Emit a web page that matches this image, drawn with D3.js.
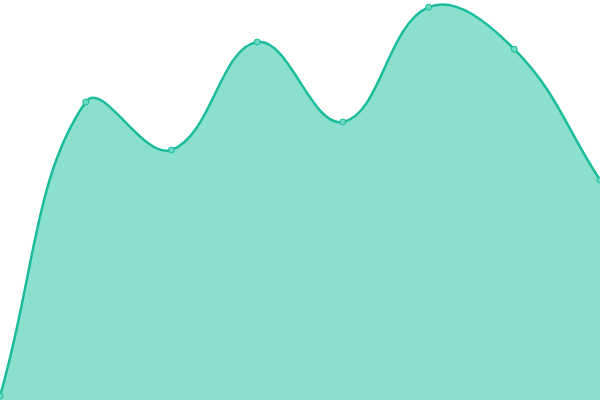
<!DOCTYPE html>
<html lang="en">
<head>
<meta charset="utf-8">
<title>Area</title>
<script src="https://d3js.org/d3.v7.min.js"></script>
<style>
  html, body { margin: 0; padding: 0; background: #fff; }
  svg { display: block; }
</style>
</head>
<body>
<div id="chart"></div>
<script>
// data
var labels = ["A", "B", "C", "D", "E", "F", "G", "H"];
var values = [1, 74.5, 62.5, 89.5, 69.5, 98.2, 87.7, 55];

var width = 600, height = 400;

// spline with distance-weighted control points (tension 0.4)
function softSpline(context) {
  var t = 0.4;
  return {
    _line: NaN,
    areaStart: function() { this._line = 0; },
    areaEnd: function() { this._line = NaN; },
    lineStart: function() { this._pts = []; },
    point: function(x, y) { this._pts.push([+x, +y]); },
    lineEnd: function() {
      var p = this._pts, n = p.length, ctrl = [];
      for (var i = 0; i < n; i++) {
        var prev = p[i - 1] || p[i], cur = p[i], next = p[i + 1] || p[i];
        var d01 = Math.hypot(cur[0] - prev[0], cur[1] - prev[1]);
        var d12 = Math.hypot(next[0] - cur[0], next[1] - cur[1]);
        var s01 = d01 / (d01 + d12), s12 = d12 / (d01 + d12);
        if (isNaN(s01)) s01 = 0;
        if (isNaN(s12)) s12 = 0;
        var fa = t * s01, fb = t * s12;
        ctrl.push({
          prev: [cur[0] - fa * (next[0] - prev[0]), cur[1] - fa * (next[1] - prev[1])],
          next: [cur[0] + fb * (next[0] - prev[0]), cur[1] + fb * (next[1] - prev[1])]
        });
      }
      if (n) {
        if (this._line) context.lineTo(p[0][0], p[0][1]);
        else context.moveTo(p[0][0], p[0][1]);
      }
      for (var j = 1; j < n; j++) {
        context.bezierCurveTo(ctrl[j - 1].next[0], ctrl[j - 1].next[1],
                              ctrl[j].prev[0], ctrl[j].prev[1],
                              p[j][0], p[j][1]);
      }
      if (this._line) context.closePath();
      this._line = 1 - this._line;
    }
  };
}

var svg = d3.select("#chart")
  .append("svg")
    .attr("width", width)
    .attr("height", height);

var x = d3.scalePoint()
  .domain(labels)
  .range([0, width]);

var y = d3.scaleLinear()
  .domain([0, 100])
  .range([height, 0]);

var area = d3.area()
  .x(function(d, i) { return x(labels[i]); })
  .y0(height)
  .y1(function(d) { return y(d); })
  .curve(softSpline);

var line = d3.line()
  .x(function(d, i) { return x(labels[i]); })
  .y(function(d) { return y(d); })
  .curve(softSpline);

svg.append("path")
  .datum(values)
  .attr("d", area)
  .style("fill", "#8adfcf");

svg.append("path")
  .datum(values)
  .attr("d", line)
  .style("fill", "none")
  .style("stroke", "#1abc9c")
  .style("stroke-width", 2.5);

// points
svg.selectAll("circle")
  .data(values)
  .enter()
  .append("circle")
    .attr("cx", function(d, i) { return x(labels[i]); })
    .attr("cy", function(d) { return y(d); })
    .attr("r", 3)
    .style("fill", "#6ad8c2")
    .style("stroke", "#1abc9c")
    .style("stroke-width", 1);
</script>
</body>
</html>
